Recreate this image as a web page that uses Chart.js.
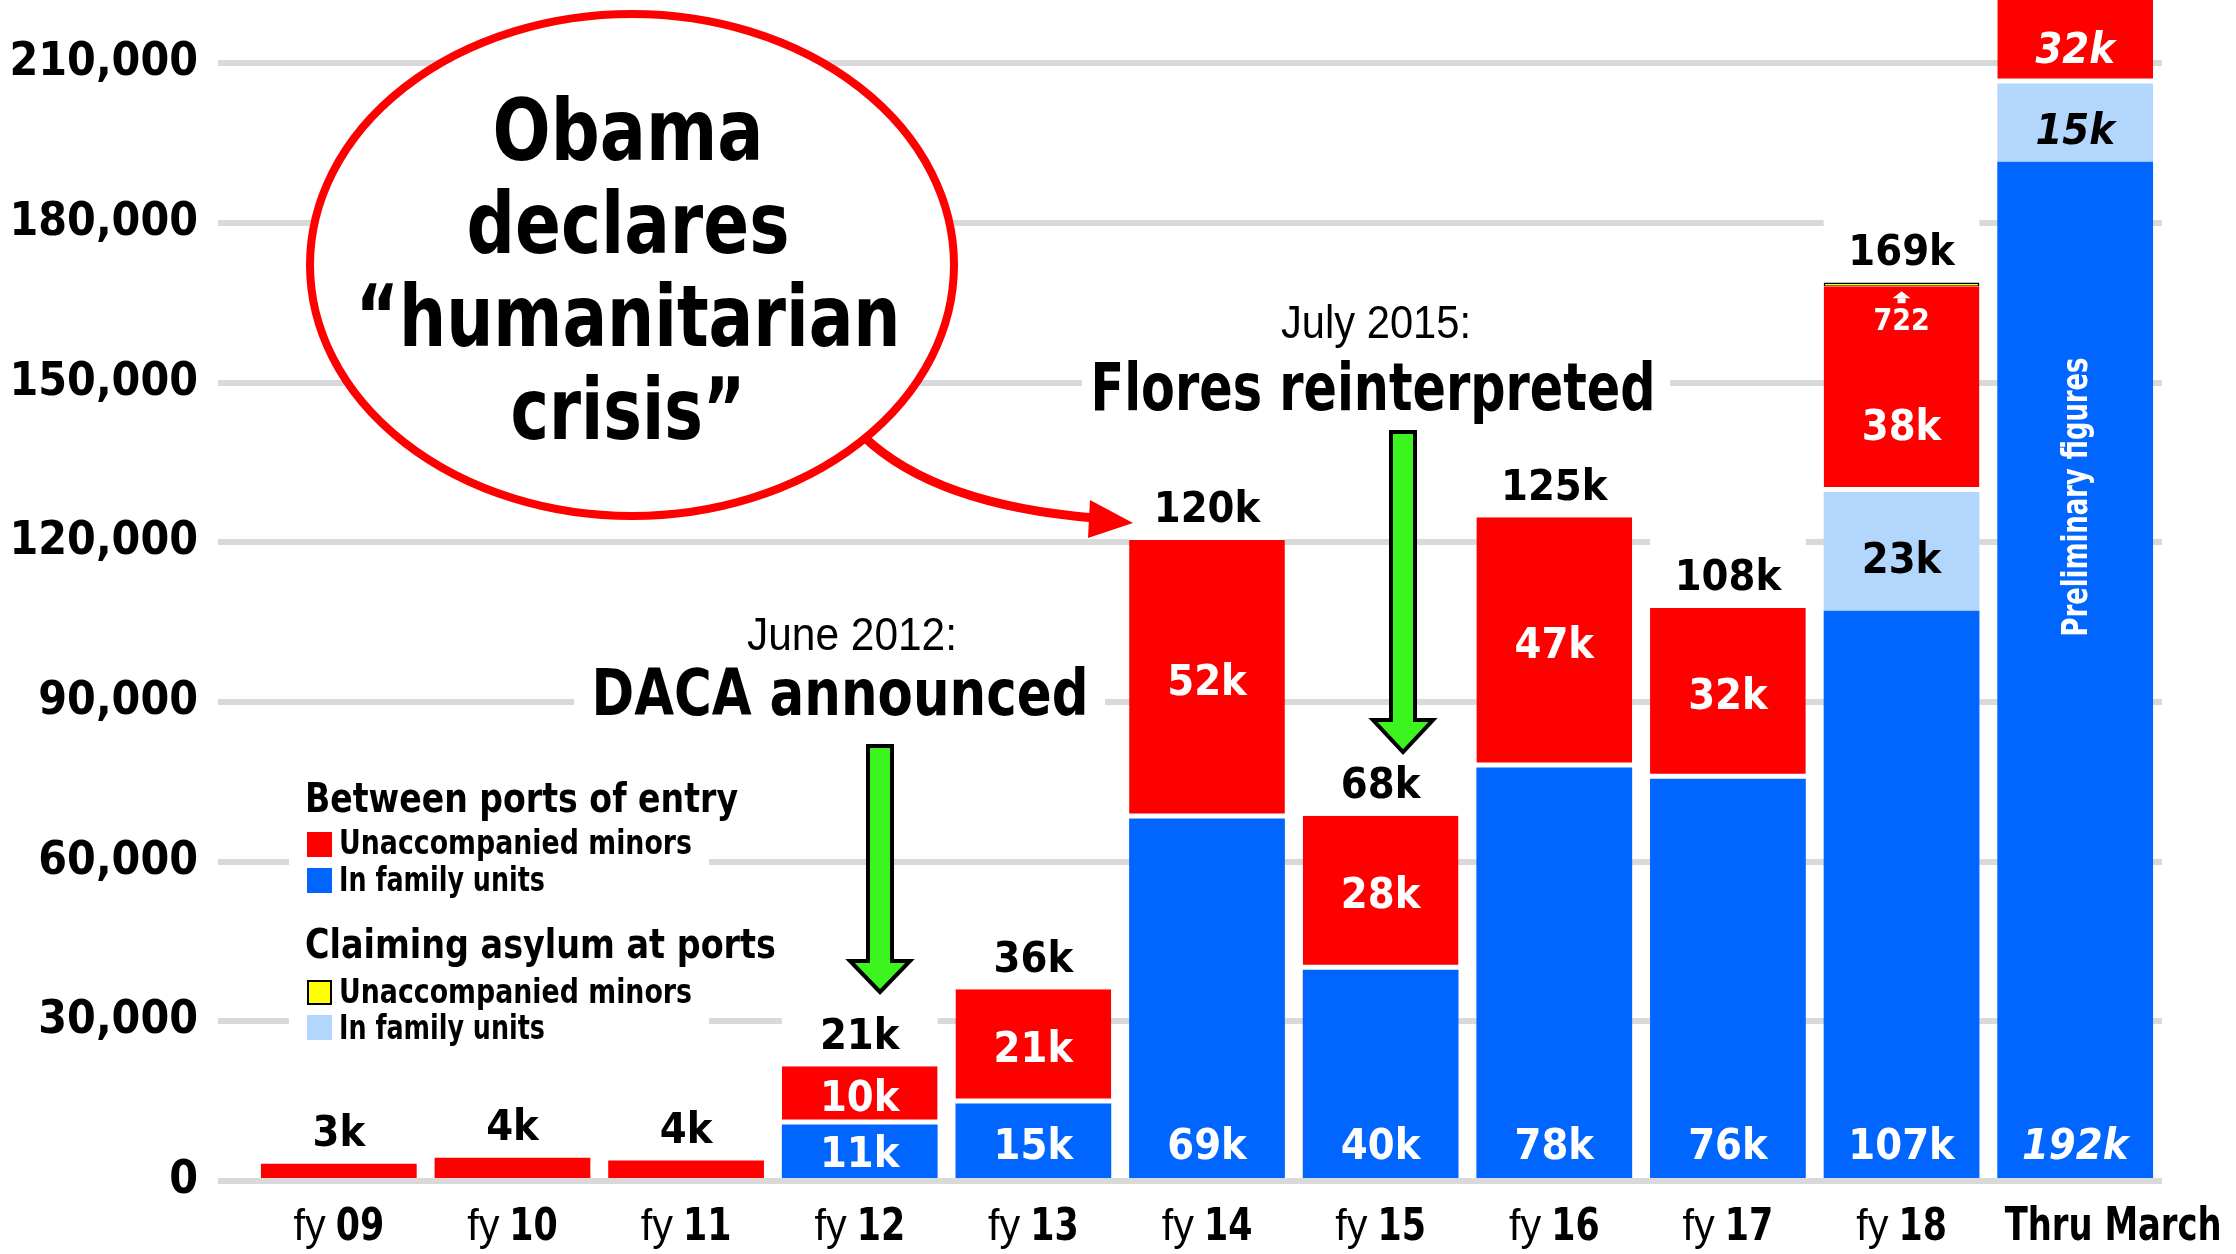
<!DOCTYPE html>
<html lang="en">
<head>
  <meta charset="UTF-8" />
  <title>Southwest border apprehensions – families and minors</title>
  <script src="https://cdn.jsdelivr.net/npm/chart.js"></script>
  <style>
    * { box-sizing: border-box; margin: 0; padding: 0; }
    body { background: #ffffff; overflow: hidden; }
    .wrap { width: 2236px; height: 1254px; position: relative; }
  </style>
</head>
<body>
<div class="wrap">
  <canvas id="chart"></canvas>
</div>

<script>
  // ---- data (thousands, stored as counts) ----
  const categories = ['09', '10', '11', '12', '13', '14', '15', '16', '17', '18', 'Thru March'];
  const familyBetween = [0, 0, 0, 10630, 14550, 68100, 39700, 77670, 75560, 107140, 191500];
  const familyPorts   = [0, 0, 0, 0, 0, 0, 0, 0, 0, 22330, 14700];
  const minorsBetween = [3240, 4370, 3840, 10930, 21480, 52350, 28950, 47030, 32110, 38650, 32000];
  const minorsPorts   = [0, 0, 0, 0, 0, 0, 0, 0, 0, 722, 0];

  const totalLabels       = ['3k', '4k', '4k', '21k', '36k', '120k', '68k', '125k', '108k', '169k', ''];
  const minorsLabels      = ['', '', '', '10k', '21k', '52k', '28k', '47k', '32k', '38k', '32k'];
  const familyLabels      = ['', '', '', '11k', '15k', '69k', '40k', '78k', '76k', '107k', '192k'];
  const portFamilyLabels  = ['', '', '', '', '', '', '', '', '', '23k', '15k'];
  const portMinorsLabels  = ['', '', '', '', '', '', '', '', '', '722', ''];
  const prelimIndex = 10;

  const yTicks = [0, 30000, 60000, 90000, 120000, 150000, 180000, 210000];
  const yMax = 221900;

  const RED = '#ff0000', BLUE = '#0066ff', LIGHTBLUE = '#b3d6fc', YELLOW = '#ffff00';
  const GRID = '#d9d9d9', GREEN = '#3cf51e';
  const BOLD = "'DejaVu Sans Condensed', 'DejaVu Sans', sans-serif";
  const LIGHT = "'Liberation Sans', Arial, sans-serif";

  // text helper; o.w squeezes the string to a given width (the original face is a condensed gothic)
  function txt(ctx, s, x, y, size, o = {}) {
    ctx.save();
    const light = o.weight === 'normal';
    ctx.font = `${o.italic ? 'italic ' : ''}${light ? 'normal' : 'bold'} ${size}px ${light ? LIGHT : BOLD}`;
    ctx.fillStyle = o.color || '#000';
    ctx.textAlign = o.align || 'center';
    ctx.textBaseline = 'alphabetic';
    const sx = o.w ? o.w / ctx.measureText(s).width : (o.sx || 1);
    ctx.translate(x, y);
    if (o.rotate) ctx.rotate(o.rotate);
    ctx.scale(sx, 1);
    ctx.fillText(s, 0, 0);
    ctx.restore();
  }
  // same, vertically centred on the digits
  function mid(ctx, s, x, cy, size, o) {
    txt(ctx, s, x, cy + size * 0.36, size, o);
  }

  function greenArrow(ctx, cx, top, headY, tip) {
    ctx.save();
    ctx.beginPath();
    ctx.moveTo(cx - 12, top);
    ctx.lineTo(cx + 12, top);
    ctx.lineTo(cx + 12, headY);
    ctx.lineTo(cx + 30, headY);
    ctx.lineTo(cx, tip);
    ctx.lineTo(cx - 30, headY);
    ctx.lineTo(cx - 12, headY);
    ctx.closePath();
    ctx.fillStyle = GREEN;
    ctx.fill();
    ctx.lineWidth = 4;
    ctx.lineJoin = 'miter';
    ctx.strokeStyle = '#000';
    ctx.stroke();
    ctx.restore();
  }

  const NUM = 43; // size of the figures on and above the bars

  const annotations = {
    id: 'annotations',
    beforeDatasetsDraw(chart) {
      const ctx = chart.ctx;
      ctx.save();
      ctx.fillStyle = '#fff';
      // white boxes behind the total labels
      const top = chart.getDatasetMeta(3).data;
      top.forEach((el, i) => {
        if (!totalLabels[i]) return;
        ctx.fillRect(el.x - el.width / 2, el.y - 74, el.width, 74);
      });
      // white panels behind the notes and the legend
      ctx.fillRect(574, 655, 531, 80);
      ctx.fillRect(1082, 350, 588, 80);
      ctx.fillRect(289, 770, 420, 280);
      ctx.restore();
    },
    afterDatasetsDraw(chart) {
      const ctx = chart.ctx;
      const area = chart.chartArea;
      const mBlue = chart.getDatasetMeta(0).data;
      const mLight = chart.getDatasetMeta(1).data;
      const mRed = chart.getDatasetMeta(2).data;
      const mTop = chart.getDatasetMeta(3).data;

      categories.forEach((c, i) => {
        const it = i === prelimIndex;
        // totals above bars
        if (totalLabels[i]) mid(ctx, totalLabels[i], mTop[i].x, mTop[i].y - 33, NUM);
        // red segment
        if (minorsLabels[i]) {
          const r = mRed[i];
          const t = Math.max(r.y, area.top);
          let cy = (t + r.base) / 2;
          if (minorsPorts[i] > 0) cy = (t + 70 + r.base) / 2;
          mid(ctx, minorsLabels[i], r.x, cy + (it ? 6 : 0), NUM, { color: '#fff', italic: it });
        }
        // dark blue segment, label kept near the foot of tall bars
        if (familyLabels[i]) {
          const b = mBlue[i];
          const cy = Math.max((b.y + b.base) / 2, area.bottom - 37);
          mid(ctx, familyLabels[i], b.x, cy, NUM, { color: '#fff', italic: it });
        }
        // light blue segment
        if (portFamilyLabels[i]) {
          const l = mLight[i];
          mid(ctx, portFamilyLabels[i], l.x, (l.y + l.base) / 2 + 6, NUM, { italic: it });
        }
        // tiny yellow segment, labelled inside the red one
        if (portMinorsLabels[i]) {
          const r = mRed[i];
          const x = r.x;
          ctx.save();
          ctx.fillStyle = '#fff';
          ctx.beginPath();
          ctx.moveTo(x, r.y + 5);
          ctx.lineTo(x + 9, r.y + 12);
          ctx.lineTo(x - 9, r.y + 12);
          ctx.closePath();
          ctx.fill();
          ctx.fillRect(x - 4, r.y + 12, 8, 5);
          ctx.restore();
          mid(ctx, portMinorsLabels[i], x, r.y + 33, 30, { color: '#fff' });
        }
        // category labels
        const cx = mBlue[i].x;
        const by = 1240;
        if (it) {
          txt(ctx, 'Thru March', cx + 38, by, 46, { w: 217 });
        } else {
          ctx.save();
          ctx.font = `normal 45px ${LIGHT}`;
          const w1 = ctx.measureText('fy').width * 0.92;
          ctx.font = `bold 42px ${BOLD}`;
          const w2 = ctx.measureText(c).width * 0.92;
          ctx.restore();
          const x0 = cx - (w1 + 10 + w2) / 2;
          txt(ctx, 'fy', x0, by, 45, { weight: 'normal', align: 'left', sx: 0.92 });
          txt(ctx, c, x0 + w1 + 10, by, 44, { align: 'left', sx: 0.88 });
        }
      });

      // vertical note in the last bar
      txt(ctx, 'Preliminary figures', mBlue[prelimIndex].x + 12, 497, 35,
          { color: '#fff', rotate: -Math.PI / 2, w: 279 });

      // legend
      txt(ctx, 'Between ports of entry', 305, 812, 41, { align: 'left', w: 433 });
      txt(ctx, 'Claiming asylum at ports', 305, 958, 41, { align: 'left', w: 471 });
      const items = [
        [RED, 'Unaccompanied minors', 832, 854, false],
        [BLUE, 'In family units', 868, 891, false],
        [YELLOW, 'Unaccompanied minors', 980, 1003, true],
        [LIGHTBLUE, 'In family units', 1015, 1039, false]
      ];
      items.forEach(([col, label, sy, ty, edge]) => {
        ctx.save();
        ctx.fillStyle = col;
        ctx.fillRect(307, sy, 25, 25);
        if (edge) {
          ctx.strokeStyle = '#000';
          ctx.lineWidth = 2;
          ctx.strokeRect(308, sy + 1, 23, 23);
        }
        ctx.restore();
        txt(ctx, label, 339, ty, 33, { align: 'left', w: label.length > 16 ? 353 : 206 });
      });

      // event notes
      txt(ctx, 'June 2012:', 852, 650, 47, { weight: 'normal', w: 210 });
      txt(ctx, 'DACA announced', 840, 715, 64, { w: 497 });
      greenArrow(ctx, 880, 746, 961, 992);

      txt(ctx, 'July 2015:', 1376, 338, 47, { weight: 'normal', w: 190 });
      txt(ctx, 'Flores reinterpreted', 1373, 410, 65, { w: 565 });
      greenArrow(ctx, 1403, 432, 720, 752);

      // speech bubble
      ctx.save();
      ctx.beginPath();
      ctx.ellipse(632, 265, 322, 251, 0, 0, Math.PI * 2);
      ctx.fillStyle = '#fff';
      ctx.fill();
      ctx.lineWidth = 8;
      ctx.strokeStyle = RED;
      ctx.stroke();
      // curved pointer to fy 14
      ctx.beginPath();
      ctx.moveTo(863, 436);
      ctx.quadraticCurveTo(935, 505, 1095, 518);
      ctx.lineWidth = 9;
      ctx.stroke();
      ctx.beginPath();
      ctx.moveTo(1133, 523);
      ctx.lineTo(1090, 500);
      ctx.lineTo(1088, 538);
      ctx.closePath();
      ctx.fillStyle = RED;
      ctx.fill();
      ctx.restore();

      const lines = [['Obama', 271], ['declares', 323], ['\u201chumanitarian', 545], ['crisis\u201d', 235]];
      lines.forEach(([l, w], k) => txt(ctx, l, 628, 160 + k * 93, 86, { w }));
    }
  };

  const stackBar = { stack: 'all', barPercentage: 0.897, categoryPercentage: 1.0 };

  new Chart(document.getElementById('chart'), {
    type: 'bar',
    data: {
      labels: categories,
      datasets: [
        { ...stackBar, label: 'Between ports: in family units', data: familyBetween, backgroundColor: BLUE },
        { ...stackBar, label: 'At ports: in family units', data: familyPorts, backgroundColor: LIGHTBLUE },
        {
          ...stackBar, label: 'Between ports: unaccompanied minors', data: minorsBetween,
          backgroundColor: RED, borderColor: '#fff', borderSkipped: false,
          borderWidth: c => {
            const i = c.dataIndex;
            const below = familyBetween[i] + familyPorts[i];
            return { top: 0, left: 0, right: 0, bottom: below > 0 ? 5 : 0 };
          }
        },
        {
          ...stackBar, label: 'At ports: unaccompanied minors', data: minorsPorts,
          backgroundColor: YELLOW, borderColor: '#000', borderSkipped: false,
          borderWidth: { top: 1.5, bottom: 1, left: 1.5, right: 1.5 }
        }
      ]
    },
    options: {
      responsive: true,
      maintainAspectRatio: false,
      animation: false,
      events: [],
      layout: { padding: { left: 0, right: 74, top: 0, bottom: 73 } },
      plugins: { legend: { display: false }, tooltip: { enabled: false } },
      scales: {
        x: { stacked: true, display: false },
        y: {
          stacked: true,
          min: 0,
          max: yMax,
          border: { display: false },
          grid: { color: GRID, lineWidth: 6, drawTicks: true, tickLength: 34, tickColor: GRID, tickWidth: 6 },
          ticks: {
            autoSkip: false,
            padding: 20,
            color: '#000',
            font: { family: BOLD, weight: 'bold', size: 46 },
            callback: v => v.toLocaleString('en-US')
          },
          afterBuildTicks: s => { s.ticks = yTicks.map(v => ({ value: v })); },
          afterFit: s => { s.width = 252; s.paddingTop = 0; s.paddingBottom = 0; }
        }
      }
    },
    plugins: [annotations]
  });
</script>
</body>
</html>
